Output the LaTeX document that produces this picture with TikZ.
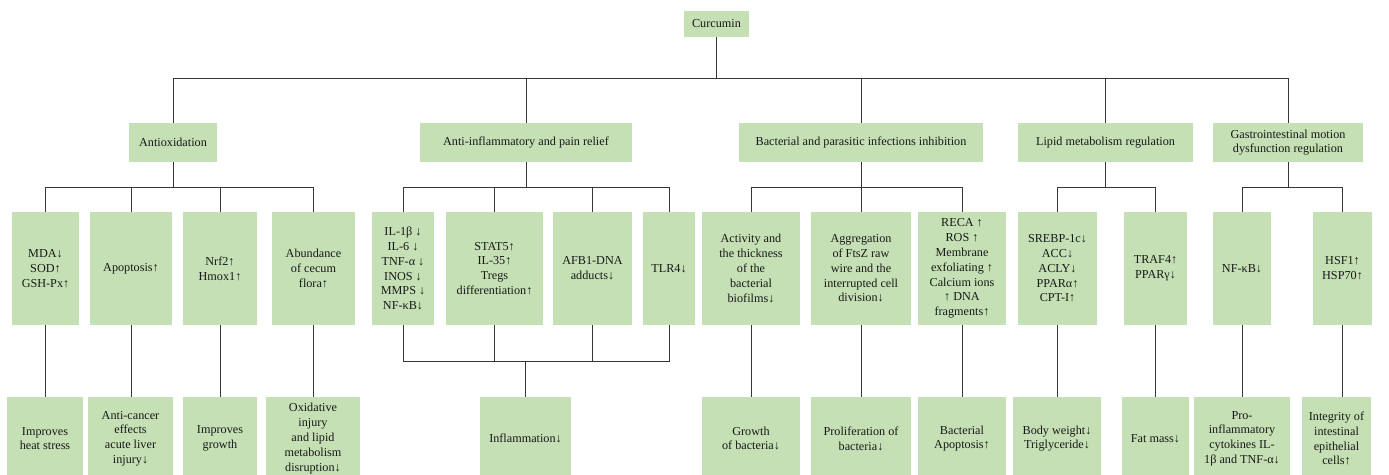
\documentclass[tikz,border=0pt]{standalone}
\usepackage{fontspec}
\setmainfont{Liberation Serif}
\definecolor{boxgreen}{RGB}{197,224,180}
\definecolor{linegray}{RGB}{55,55,55}
\definecolor{txt}{RGB}{25,25,25}
\tikzset{
  box/.style={rectangle, fill=boxgreen, draw=none, inner sep=0pt, align=center,
    text=txt, font=\fontsize{12.2}{14.8}\selectfont},
  conn/.style={draw=linegray, line width=1pt}
}
\newcommand\drawbox[6]{%
  \node[box, minimum width={#4-#2}, minimum height={#5-#3}] (#1) at ({(#2+#4)/2},{(#3+#5)/2}) {#6};}
\begin{document}
\begin{tikzpicture}[x=1pt,y=-1pt]
\clip (0,0) rectangle (1389,474);
\fill[white] (0,0) rectangle (1389,474);
% root
\drawbox{cur}{684}{11}{749}{37}{Curcumin}
% level 1
\drawbox{anti}{129}{123}{217}{162}{Antioxidation}
\drawbox{inf}{420}{123}{632}{162}{Anti-inflammatory and pain relief}
\drawbox{bact}{739}{123}{983}{162}{Bacterial and parasitic infections inhibition}
\drawbox{lip}{1018}{123}{1193}{162}{Lipid metabolism regulation}
\drawbox{gi}{1213}{123}{1363}{162}{Gastrointestinal motion\\dysfunction regulation}
% level 2
\drawbox{mda}{12}{212}{79}{325}{MDA↓\\SOD↑\\GSH-Px↑}
\drawbox{apo}{90}{212}{172}{325}{Apoptosis↑}
\drawbox{nrf}{183}{212}{257}{325}{Nrf2↑\\Hmox1↑}
\drawbox{abu}{272}{212}{355}{325}{Abundance\\of cecum\\flora↑}
\drawbox{il}{372}{212}{434}{325}{IL-1β ↓\\IL-6 ↓\\TNF-α ↓\\INOS ↓\\MMPS ↓\\NF-κB↓}
\drawbox{stat}{446}{212}{543}{325}{STAT5↑\\IL-35↑\\Tregs\\differentiation↑}
\drawbox{afb}{553}{212}{632}{325}{AFB1-DNA\\adducts↓}
\drawbox{tlr}{643}{212}{695}{325}{TLR4↓}
\drawbox{act}{702}{212}{800}{325}{Activity and\\the thickness\\of the\\bacterial\\biofilms↓}
\drawbox{agg}{811}{212}{911}{325}{Aggregation\\of FtsZ raw\\wire and the\\interrupted cell\\division↓}
\drawbox{reca}{918}{212}{1006}{325}{RECA ↑\\ROS ↑\\Membrane\\exfoliating ↑\\Calcium ions\\↑ DNA\\fragments↑}
\drawbox{sreb}{1018}{212}{1097}{325}{SREBP-1c↓\\ACC↓\\ACLY↓\\PPARα↑\\CPT-I↑}
\drawbox{traf}{1124}{212}{1187}{325}{TRAF4↑\\PPARγ↓}
\drawbox{nfkb}{1213}{212}{1271}{325}{NF-κB↓}
\drawbox{hsf}{1313}{212}{1372}{325}{HSF1↑\\HSP70↑}
% level 3
\drawbox{heat}{7}{397}{83}{480}{Improves\\heat stress}
\drawbox{canc}{88}{397}{173}{480}{Anti-cancer\\effects\\acute liver\\injury↓}
\drawbox{grow}{183}{397}{257}{480}{Improves\\growth}
\drawbox{oxid}{266}{397}{360}{480}{Oxidative\\injury\\and lipid\\metabolism\\disruption↓}
\drawbox{infl}{480}{397}{571}{480}{Inflammation↓}
\drawbox{gbac}{702}{397}{800}{480}{Growth\\of bacteria↓}
\drawbox{prol}{811}{397}{911}{480}{Proliferation of\\bacteria↓}
\drawbox{bapo}{918}{397}{1006}{480}{Bacterial\\Apoptosis↑}
\drawbox{bw}{1013}{397}{1101}{480}{Body weight↓\\Triglyceride↓}
\drawbox{fat}{1122}{397}{1189}{480}{Fat mass↓}
\drawbox{pro}{1194}{397}{1290}{480}{Pro-\\inflammatory\\cytokines IL-\\1β and TNF-α↓}
\drawbox{integ}{1302}{397}{1371}{480}{Integrity of\\intestinal\\epithelial\\cells↑}
% bus coordinates
\coordinate (b0) at (716,78);
\coordinate (b1) at (0,187);
\coordinate (b2) at (0,361);
% root connectors
\draw[conn] (cur.south) -- (cur.south |- b0);
\draw[conn] (anti.north) |- (gi.north |- b0) -- (gi.north);
\draw[conn] (inf.north) -- (inf.north |- b0);
\draw[conn] (bact.north) -- (bact.north |- b0);
\draw[conn] (lip.north) -- (lip.north |- b0);
% antioxidation
\draw[conn] (anti.south) -- (anti.south |- b1);
\draw[conn] (mda.north) |- (abu.north |- b1) -- (abu.north);
\draw[conn] (apo.north) -- (apo.north |- b1);
\draw[conn] (nrf.north) -- (nrf.north |- b1);
% anti-inflammatory
\draw[conn] (inf.south) -- (inf.south |- b1);
\draw[conn] (il.north) |- (tlr.north |- b1) -- (tlr.north);
\draw[conn] (stat.north) -- (stat.north |- b1);
\draw[conn] (afb.north) -- (afb.north |- b1);
% bacterial
\draw[conn] (bact.south) -- (bact.south |- b1);
\draw[conn] (act.north) |- (reca.north |- b1) -- (reca.north);
\draw[conn] (agg.north) -- (agg.north |- b1);
% lipid
\draw[conn] (lip.south) -- (lip.south |- b1);
\draw[conn] (sreb.north) |- (traf.north |- b1) -- (traf.north);
% gi
\draw[conn] (gi.south) -- (gi.south |- b1);
\draw[conn] (nfkb.north) |- (hsf.north |- b1) -- (hsf.north);
% level 2 -> level 3
\draw[conn] (mda.south) -- (mda.south |- heat.north);
\draw[conn] (apo.south) -- (apo.south |- canc.north);
\draw[conn] (nrf.south) -- (nrf.south |- grow.north);
\draw[conn] (abu.south) -- (abu.south |- oxid.north);
\draw[conn] (il.south) |- (tlr.south |- b2) -- (tlr.south);
\draw[conn] (stat.south) -- (stat.south |- b2);
\draw[conn] (afb.south) -- (afb.south |- b2);
\draw[conn] (infl.north) -- (infl.north |- b2);
\draw[conn] (act.south) -- (act.south |- gbac.north);
\draw[conn] (agg.south) -- (agg.south |- prol.north);
\draw[conn] (reca.south) -- (reca.south |- bapo.north);
\draw[conn] (sreb.south) -- (sreb.south |- bw.north);
\draw[conn] (traf.south) -- (traf.south |- fat.north);
\draw[conn] (nfkb.south) -- (nfkb.south |- pro.north);
\draw[conn] (hsf.south) -- (hsf.south |- integ.north);
\end{tikzpicture}
\end{document}
